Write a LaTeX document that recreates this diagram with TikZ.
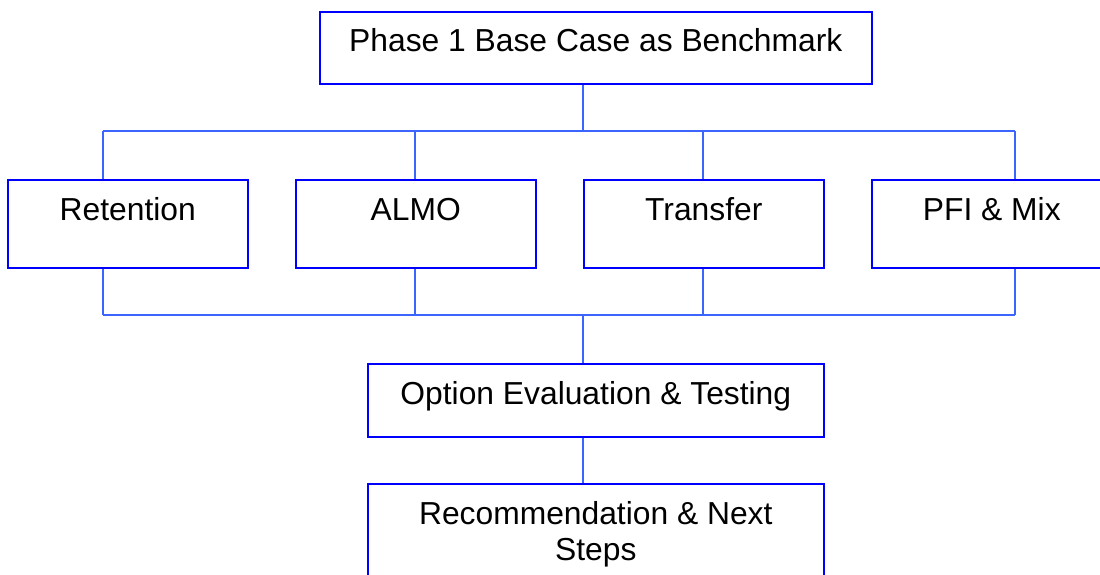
\documentclass[tikz,border=0pt]{standalone}
\usepackage{fontspec}
\setmainfont{Liberation Sans}
\usetikzlibrary{calc}
\definecolor{boxblue}{RGB}{0,0,255}
\definecolor{linkblue}{RGB}{60,100,255}
\begin{document}
\begin{tikzpicture}[x=1pt,y=-1pt,
  stagebox/.style={draw=boxblue, line width=1.6pt, fill=white, inner sep=0pt},
  caption/.style={inner sep=0pt, anchor=base, align=center,
    font=\fontsize{31.8}{36}\selectfont},
  link/.style={draw=linkblue, line width=1.3pt}]
\useasboundingbox (0,0) rectangle (1100,575);
\clip (0,0) rectangle (1100,575);

% bus junction points
\coordinate (jtop) at (583,131);
\coordinate (j1) at (103,131);
\coordinate (j2) at (415,131);
\coordinate (j3) at (703,131);
\coordinate (j4) at (1015,131);
\coordinate (k1) at (103,315);
\coordinate (k2) at (415,315);
\coordinate (k3) at (703,315);
\coordinate (k4) at (1015,315);
\coordinate (kbot) at (583,315);

% connectors (drawn first, boxes cover their ends)
\draw[link] (jtop) -- (583,83);
\draw[link] (j1) -- (j4);
\draw[link] (k1) -- (k4);

% boxes
\node[stagebox, minimum width=552, minimum height=72, anchor=north west] (base) at (319,11) {};
\node[stagebox, minimum width=240, minimum height=88, anchor=north west] (ret) at (7,179) {};
\node[stagebox, minimum width=240, minimum height=88, anchor=north west] (almo) at (295,179) {};
\node[stagebox, minimum width=240, minimum height=88, anchor=north west] (trans) at (583,179) {};
\node[stagebox, minimum width=240, minimum height=88, anchor=north west] (pfi) at (871,179) {};
\node[stagebox, minimum width=456, minimum height=73, anchor=north west] (eval) at (367,363) {};
\node[stagebox, minimum width=456, minimum height=110, anchor=north west] (rec) at (367,483) {};

% labels
\node[caption] (base-t) at ($(base.north)+(0,41)$) {Phase 1 Base Case as Benchmark};
\node[caption] (ret-t) at ($(ret.north)+(0,41)$) {Retention};
\node[caption] (almo-t) at ($(almo.north)+(0,41)$) {ALMO};
\node[caption] (trans-t) at ($(trans.north)+(0,41)$) {Transfer};
\node[caption] (pfi-t) at ($(pfi.north)+(0,41)$) {PFI \& Mix};
\node[caption] (eval-t) at ($(eval.north)+(0,41)$) {Option Evaluation \& Testing};
\node[caption] (rec-t) at ($(rec.north)+(0,77)$) {Recommendation \& Next\\Steps};

% links between boxes and the buses
\draw[link] (j1) -- (j1 |- ret.north);
\draw[link] (j2) -- (j2 |- almo.north);
\draw[link] (j3) -- (j3 |- trans.north);
\draw[link] (j4) -- (j4 |- pfi.north);
\draw[link] (k1 |- ret.south) -- (k1);
\draw[link] (k2 |- almo.south) -- (k2);
\draw[link] (k3 |- trans.south) -- (k3);
\draw[link] (k4 |- pfi.south) -- (k4);
\draw[link] (kbot) -- (kbot |- eval.north);
\draw[link] (kbot |- eval.south) -- (kbot |- rec.north);
\end{tikzpicture}
\end{document}
